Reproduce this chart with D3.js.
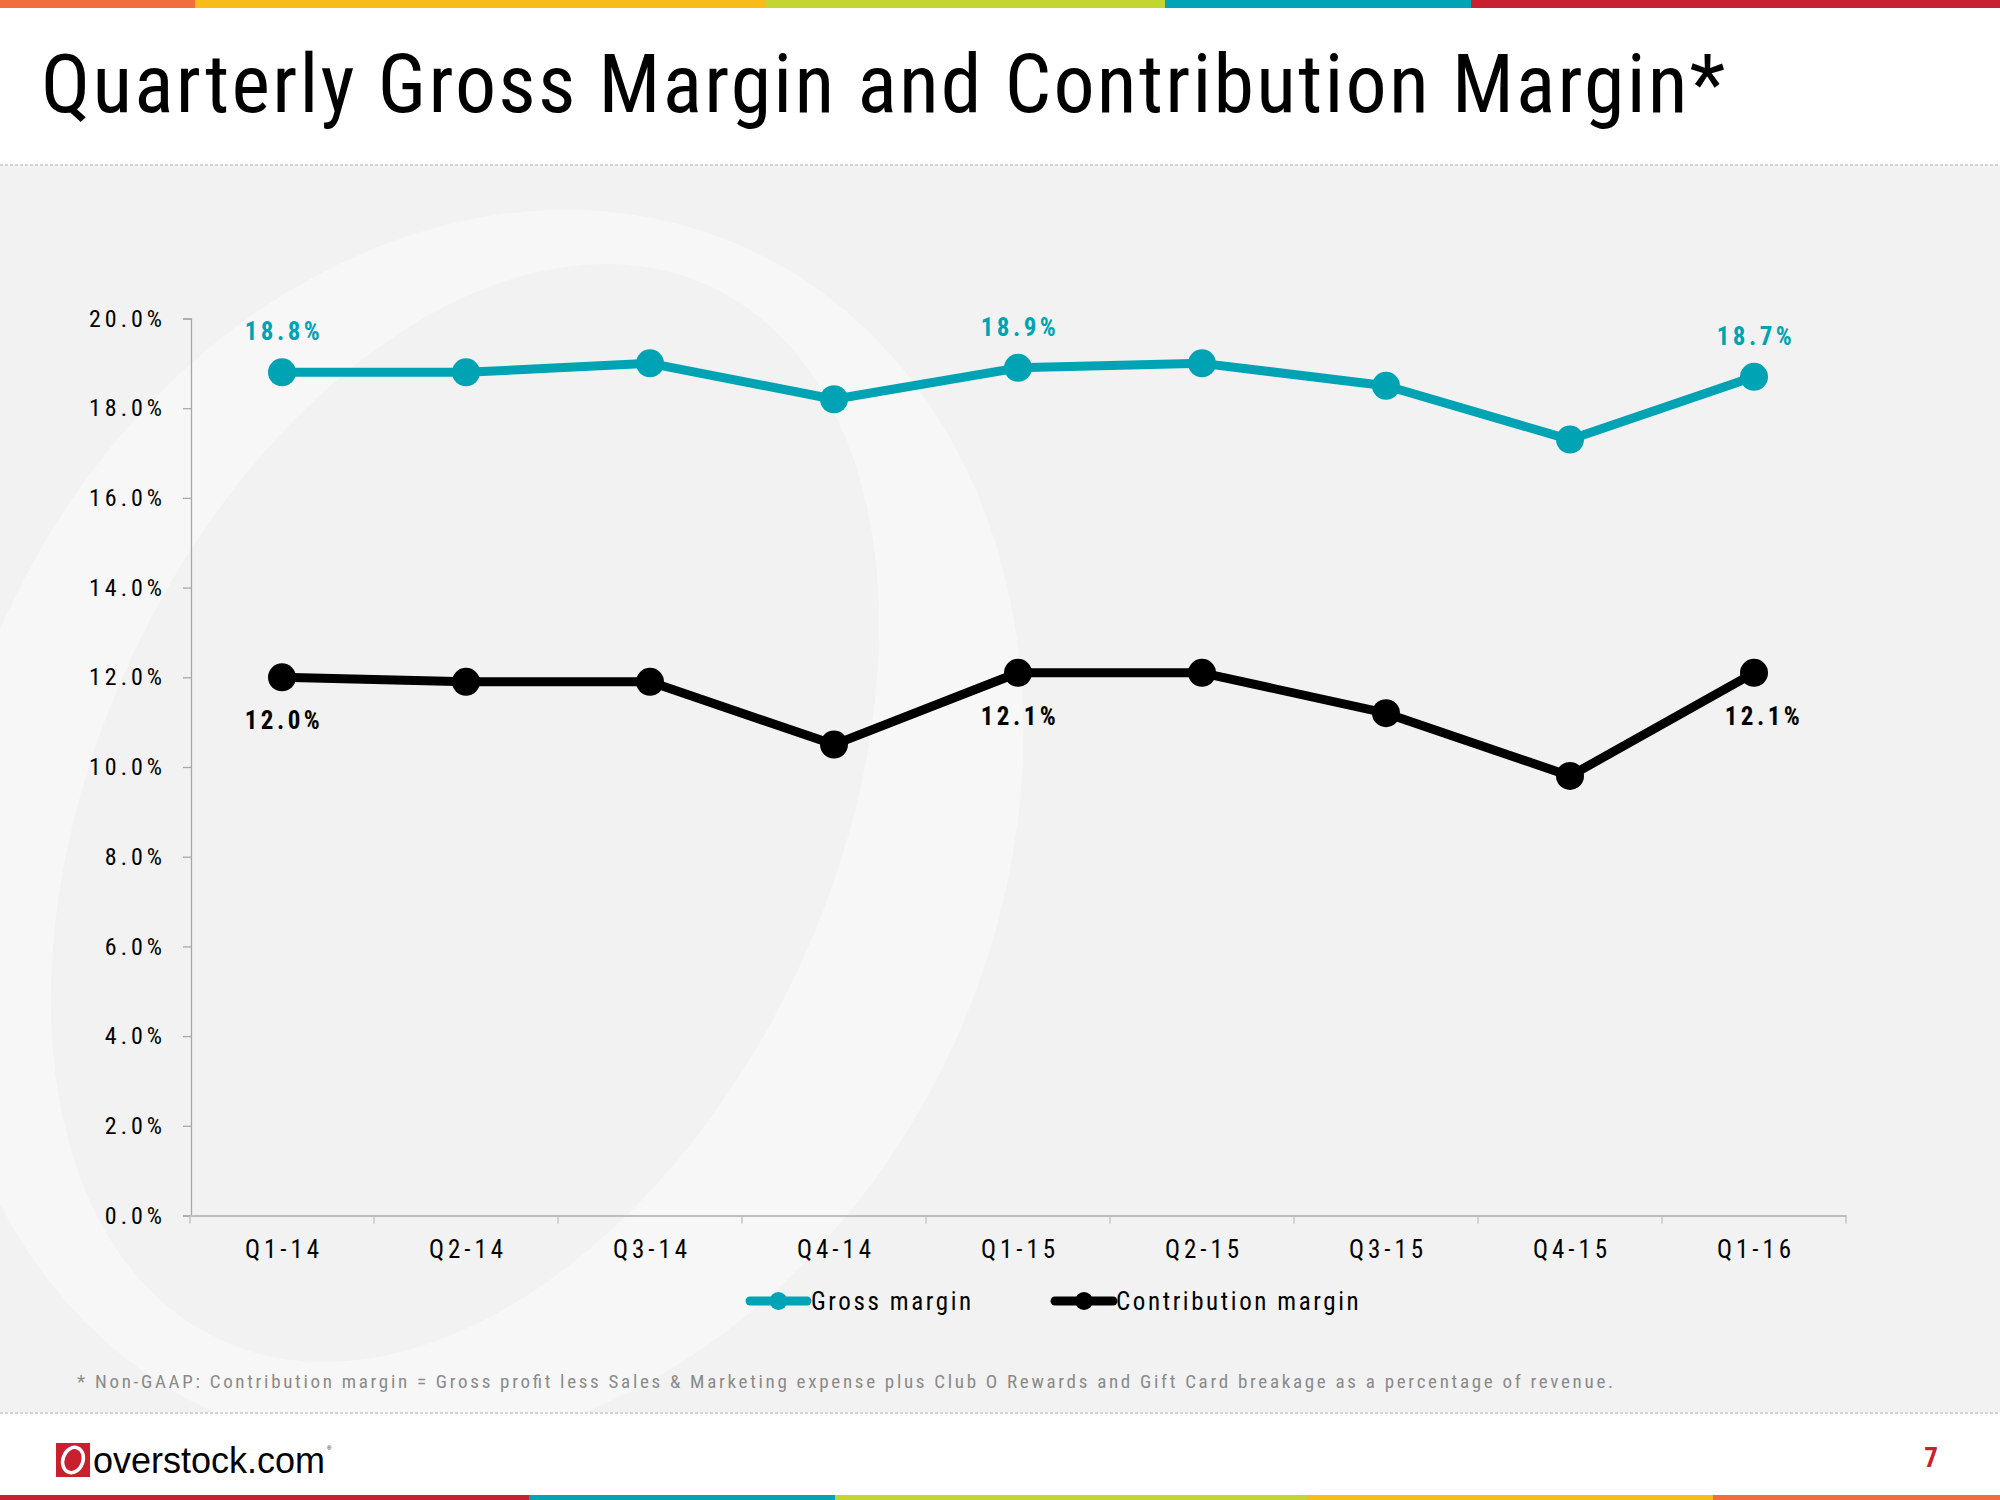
<!DOCTYPE html>
<html>
<head>
<meta charset="utf-8">
<script src="https://cdn.jsdelivr.net/npm/d3@7"></script>
<style>
  html, body { margin: 0; padding: 0; background: #ffffff; }
  svg { display: block; }
</style>
</head>
<body>
<svg id="chart" width="2000" height="1500"></svg>
<script>
// ---------- data ----------
const categories = ["Q1-14", "Q2-14", "Q3-14", "Q4-14", "Q1-15", "Q2-15", "Q3-15", "Q4-15", "Q1-16"];
const grossMargin = [18.8, 18.8, 19.0, 18.2, 18.9, 19.0, 18.5, 17.3, 18.7];
const contributionMargin = [12.0, 11.9, 11.9, 10.5, 12.1, 12.1, 11.2, 9.8, 12.1];
const yTicks = [0, 2, 4, 6, 8, 10, 12, 14, 16, 18, 20];
const labeledIndex = [0, 4, 8];
const seriesNames = ["Gross margin", "Contribution margin"];
const titleText = "Quarterly Gross Margin and Contribution Margin*";
const footnoteText = "* Non-GAAP: Contribution margin = Gross profit less Sales & Marketing expense plus Club O Rewards and Gift Card breakage as a percentage of revenue.";
const pageNumber = "7";
const topBarColors = ["#F26D3D", "#F8BC1A", "#C2D530", "#00A4B4", "#C8202F"];
const topBarStops = [0, 195, 765, 1165, 1471, 2000];
const bottomBarColors = ["#C8202F", "#00A4B4", "#C2D530", "#F8BC1A", "#F26D3D"];
const bottomBarStops = [0, 529, 835, 1307, 1713, 2000];

// ---------- styles ----------
const NARROW = "'Liberation Sans Narrow', 'Arial Narrow', 'Roboto Condensed', 'Liberation Sans', sans-serif";
const TEAL = "#00A3B3";
const BLACK = "#000000";
const LS = 4; // letter spacing

const svg = d3.select("#chart");

// page backgrounds
svg.append("rect").attr("x", 0).attr("y", 0).attr("width", 2000).attr("height", 1500).attr("fill", "#ffffff");
const panelTop = 165, panelBottom = 1413;
svg.append("rect").attr("x", 0).attr("y", panelTop).attr("width", 2000).attr("height", panelBottom - panelTop).attr("fill", "#f2f2f2");

// watermark "O"
svg.append("clipPath").attr("id", "panelClip")
  .append("rect").attr("x", 0).attr("y", panelTop).attr("width", 2000).attr("height", panelBottom - panelTop);
const wm = svg.append("g").attr("clip-path", "url(#panelClip)");
wm.append("ellipse").attr("cx", 480).attr("cy", 830).attr("rx", 520).attr("ry", 640)
  .attr("transform", "rotate(25,480,830)").attr("fill", "#f7f7f7");
wm.append("ellipse").attr("cx", 465).attr("cy", 813).attr("rx", 368).attr("ry", 581)
  .attr("transform", "rotate(25,465,813)").attr("fill", "#f2f2f2");

// dashed separators
[panelTop, panelBottom].forEach(y => {
  svg.append("line").attr("x1", 0).attr("x2", 2000).attr("y1", y).attr("y2", y)
    .attr("stroke", "#c9c9c9").attr("stroke-width", 1.5).attr("stroke-dasharray", "3,2");
});

// color bars
topBarColors.forEach((c, i) => {
  svg.append("rect").attr("x", topBarStops[i]).attr("y", 0)
    .attr("width", topBarStops[i + 1] - topBarStops[i]).attr("height", 8).attr("fill", c);
});
bottomBarColors.forEach((c, i) => {
  svg.append("rect").attr("x", bottomBarStops[i]).attr("y", 1495)
    .attr("width", bottomBarStops[i + 1] - bottomBarStops[i]).attr("height", 5).attr("fill", c);
});

// title
svg.append("text").attr("x", 41).attr("y", 112)
  .attr("font-family", NARROW).attr("font-size", 82).attr("fill", "#000")
  .attr("textLength", 1684).attr("lengthAdjust", "spacing")
  .text(titleText);

// ---------- scales ----------
const x = d3.scaleBand().domain(categories).range([190, 1846]).paddingInner(0).paddingOuter(0);
const y = d3.scaleLinear().domain([0, 20]).range([1215.5, 318.5]);
const cx = c => x(c) + x.bandwidth() / 2;

// y axis
const yAxis = d3.axisLeft(y).tickValues(yTicks).tickFormat(d => d.toFixed(1) + "%")
  .tickSize(8).tickPadding(191 - 8 - 162 - LS);
const gy = svg.append("g").attr("transform", "translate(191,0)").call(yAxis);
gy.select(".domain").attr("stroke", "#a8a8a8").attr("stroke-width", 1.3);
gy.selectAll(".tick line").attr("stroke", "#a8a8a8").attr("stroke-width", 1.3);
gy.selectAll(".tick text").attr("font-family", NARROW).attr("font-size", 24)
  .attr("fill", "#000").attr("letter-spacing", LS);

// x axis
const xAxis = d3.axisBottom(x).tickSize(0).tickPadding(24.5);
const gx = svg.append("g").attr("transform", `translate(0,${y(0)})`).call(xAxis);
gx.select(".domain").attr("stroke", "#bdbdbd").attr("stroke-width", 2);
gx.selectAll(".tick text").attr("font-family", NARROW).attr("font-size", 25)
  .attr("fill", "#000").attr("letter-spacing", LS).attr("dx", LS / 2);
// boundary ticks
const bounds = categories.map(c => x(c)).concat([x(categories[categories.length - 1]) + x.bandwidth()]);
svg.append("g").selectAll("line").data(bounds).join("line")
  .attr("x1", d => d).attr("x2", d => d).attr("y1", y(0)).attr("y2", y(0) + 8)
  .attr("stroke", "#bdbdbd").attr("stroke-width", 1.3);

// ---------- series ----------
const series = [
  { name: seriesNames[0], values: grossMargin, color: TEAL, labelDy: -32, labelWeight: "bold" },
  { name: seriesNames[1], values: contributionMargin, color: BLACK, labelDy: 52, labelWeight: "bold" }
];
const line = d3.line().x((d, i) => cx(categories[i])).y(d => y(d));

series.forEach(s => {
  svg.append("path").datum(s.values).attr("d", line)
    .attr("fill", "none").attr("stroke", s.color).attr("stroke-width", 9)
    .attr("stroke-linejoin", "round");
  svg.append("g").selectAll("circle").data(s.values).join("circle")
    .attr("cx", (d, i) => cx(categories[i])).attr("cy", d => y(d)).attr("r", 14)
    .attr("fill", s.color);
  svg.append("g").selectAll("text").data(labeledIndex).join("text")
    .attr("x", i => cx(categories[i]) + LS / 2 + (s.color === BLACK && i === categories.length - 1 ? 8 : 0))
    .attr("y", i => y(s.values[i]) + s.labelDy)
    .attr("text-anchor", "middle").attr("font-family", NARROW).attr("font-size", 25)
    .attr("font-weight", s.labelWeight).attr("letter-spacing", 3.5).attr("fill", s.color)
    .text(i => s.values[i].toFixed(1) + "%");
});

// ---------- legend ----------
const legendItems = [
  { name: seriesNames[0], color: TEAL, x0: 750, x1: 807, tx: 811 },
  { name: seriesNames[1], color: BLACK, x0: 1055, x1: 1113, tx: 1116 }
];
const ly = 1301;
legendItems.forEach(it => {
  svg.append("line").attr("x1", it.x0).attr("x2", it.x1).attr("y1", ly).attr("y2", ly)
    .attr("stroke", it.color).attr("stroke-width", 9).attr("stroke-linecap", "round");
  svg.append("circle").attr("cx", (it.x0 + it.x1) / 2).attr("cy", ly).attr("r", 9).attr("fill", it.color);
  svg.append("text").attr("x", it.tx).attr("y", ly + 9)
    .attr("font-family", NARROW).attr("font-size", 25).attr("fill", "#000")
    .attr("letter-spacing", 2.6).text(it.name);
});

// footnote
svg.append("text").attr("x", 77).attr("y", 1388)
  .attr("font-family", NARROW).attr("font-size", 19).attr("fill", "#8a8a8a")
  .attr("textLength", 1536).attr("lengthAdjust", "spacing")
  .text(footnoteText);

// ---------- logo ----------
const logo = svg.append("g");
logo.append("rect").attr("x", 56).attr("y", 1443).attr("width", 34).attr("height", 34).attr("fill", "#C8202F");
logo.append("ellipse").attr("cx", 73).attr("cy", 1460).attr("rx", 10).attr("ry", 13)
  .attr("transform", "rotate(20,73,1460)")
  .attr("fill", "none").attr("stroke", "#ffffff").attr("stroke-width", 3.5);
logo.append("text").attr("x", 93).attr("y", 1473)
  .attr("font-family", "'Liberation Sans', Arial, sans-serif").attr("font-size", 36).attr("fill", "#000")
  .text("overstock.com");
logo.append("text").attr("x", 327).attr("y", 1450)
  .attr("font-family", "'Liberation Sans', Arial, sans-serif").attr("font-size", 6).attr("fill", "#000")
  .text("®");

// page number
svg.append("text").attr("x", 1931).attr("y", 1467).attr("text-anchor", "middle")
  .attr("font-family", NARROW).attr("font-size", 27).attr("font-weight", "bold").attr("fill", "#C8202F")
  .text(pageNumber);
</script>
</body>
</html>
